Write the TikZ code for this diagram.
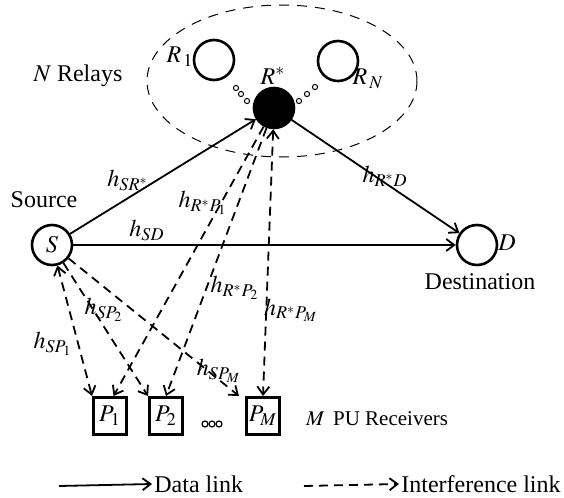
\documentclass[tikz,border=0pt]{standalone}
\usepackage{mathptmx}
\usepackage[no-math]{fontspec}
\setmainfont{Liberation Serif}
\usetikzlibrary{arrows.meta}
\begin{document}
\begin{tikzpicture}[x=0.5pt,y=-0.5pt,
  font=\fontsize{12}{14}\selectfont,
  tip/.style={-{Straight Barb[length=4pt,width=6pt]}},
  twotip/.style={{Straight Barb[length=4pt,width=6pt]}-{Straight Barb[length=4pt,width=6pt]}},
  datalink/.style={tip,line width=0.9pt},
  intlink/.style={line width=0.9pt,dash pattern=on 4.5pt off 3pt},
  relay/.style={circle,draw,line width=1.3pt,minimum size=20pt,inner sep=0pt},
  pubox/.style={rectangle,draw,line width=1.5pt,minimum width=16.5pt,minimum height=18.5pt,inner sep=0pt},
  dot/.style={circle,draw,line width=0.5pt,minimum size=2.6pt,inner sep=0pt},
  lbl/.style={inner sep=1pt}]
\useasboundingbox (0,0) rectangle (564,498);

% relay cluster
\draw[line width=0.5pt,dash pattern=on 5pt off 4pt] (282,81) ellipse [x radius=135, y radius=76];
\node[relay] (R1) at (214,60) {};
\node[relay] (RN) at (338,61) {};
\node[relay,fill=black] (Rs) at (274,108) {};
\node[lbl] (lR1) at (180,57) {$R_{\,1}$};
\node[lbl] (lRs) at (273,76) {$R^{*}$};
\node[lbl] (lRN) at (368,79) {$R_{\,N}$};
\node (relays) at (78,76) {$N$ Relays};
\node[dot] (d1) at (236,88) {};
\node[dot] (d2) at (241,94) {};
\node[dot] (d3) at (247,101) {};
\node[dot] (d4) at (299,101) {};
\node[dot] (d5) at (307,94) {};
\node[dot] (d6) at (315,87) {};

% source and destination
\node[relay] (S) at (52,245) {$S$};
\node[relay] (D) at (477,245) {};
\node (src) at (44,200) {Source};
\node[lbl] (lD) at (507,243) {$D$};
\node (dst) at (480,282) {Destination};

% primary-user receivers
\node[pubox] (P1) at (110,416) {$P_1$};
\node[pubox] (P2) at (166,416) {$P_2$};
\node[pubox] (PM) at (263,416) {$P_M$};
\node[dot,line width=0.6pt,minimum size=3pt] (e1) at (205,424) {};
\node[dot,line width=0.6pt,minimum size=3pt] (e2) at (212,424) {};
\node[dot,line width=0.6pt,minimum size=3pt] (e3) at (219,424) {};
\node[anchor=west,font=\fontsize{10.5}{12}\selectfont] (pu) at (299,419) {$M$\, PU Receivers};

% data links
\draw[datalink] (S) -- (Rs);
\draw[datalink] (S) -- (D);
\draw[datalink] (Rs) -- (D);

% interference links
\draw[intlink,twotip] (S) -- (P1.north west);
\draw[intlink,tip] (S) -- (P2.north west);
\draw[intlink,tip] (S) -- ([xshift=-3pt]PM.north west);
\draw[intlink,tip] (Rs) -- (P1.80);
\draw[intlink,tip] (Rs) -- (P2.north);
\draw[intlink,twotip] (Rs) -- (PM.north);

% channel labels
\node[lbl] (hSR) at (128,180) {$h_{SR^*}$};
\node[lbl] (hSD) at (147,230) {$h_{SD}$};
\node[lbl] (hRD) at (385,176) {$h_{R^*D}$};
\node[lbl] (hRP1) at (203,203) {$h_{R^*P_1}$};
\node[lbl] (hRP2) at (235,288) {$h_{R^*P_2}$};
\node[lbl] (hRPM) at (291,310) {$h_{R^*P_M}$};
\node[lbl] (hSP2) at (104,310) {$h_{SP_2}$};
\node[lbl] (hSP1) at (53,344) {$h_{SP_1}$};
\node[lbl] (hSPM) at (219,371) {$h_{SP_M}$};

% legend
\coordinate (la) at (59,486);
\node[anchor=west,inner sep=1pt] (ldata) at (152,484) {Data link};
\draw[datalink] (la) -- (ldata.west);
\coordinate (lb) at (304,486);
\node[anchor=west,inner sep=1pt] (lint) at (399,484) {Interference link};
\draw[intlink,tip] (lb) -- (lint.west);
\end{tikzpicture}
\end{document}
